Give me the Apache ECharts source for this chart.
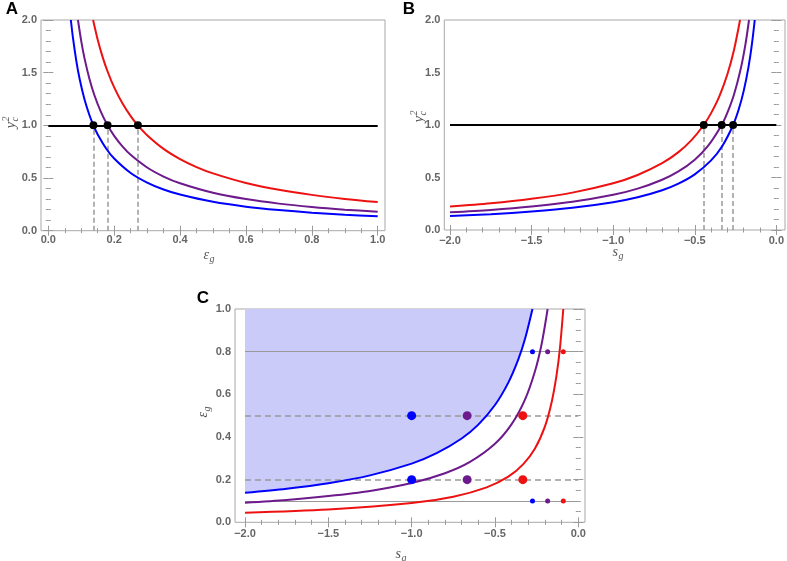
<!DOCTYPE html>
<html>
<head>
<meta charset="utf-8">
<script src="https://cdn.jsdelivr.net/npm/echarts@6/dist/echarts.min.js"></script>
<style>
html,body{margin:0;padding:0;background:#fff;}
#chart{width:787px;height:561px;}
</style>
</head>
<body>
<div id="chart"></div>
<script>
// ---------- DATA ----------
// Panel A: y_c^2 vs eps_g
const A_blue = [[0.0685,2.0],[0.075,1.827],[0.085,1.612],[0.095,1.442],[0.11,1.245],[0.125,1.096],[0.137,1.0],[0.15,0.913],[0.175,0.783],[0.2,0.685],[0.25,0.548],[0.3,0.457],[0.35,0.391],[0.4,0.343],[0.5,0.274],[0.6,0.228],[0.7,0.196],[0.8,0.171],[0.9,0.152],[1.0,0.137]];
const A_purple = [[0.09,2.0],[0.1,1.8],[0.11,1.636],[0.125,1.44],[0.14,1.286],[0.16,1.125],[0.18,1.0],[0.2,0.9],[0.225,0.8],[0.25,0.72],[0.3,0.6],[0.35,0.514],[0.4,0.45],[0.5,0.36],[0.6,0.3],[0.7,0.257],[0.8,0.225],[0.9,0.2],[1.0,0.18]];
const A_red = [[0.136,2.0],[0.15,1.813],[0.165,1.648],[0.18,1.511],[0.2,1.36],[0.225,1.209],[0.25,1.088],[0.272,1.0],[0.3,0.907],[0.35,0.777],[0.4,0.68],[0.45,0.604],[0.5,0.544],[0.6,0.453],[0.7,0.389],[0.8,0.34],[0.9,0.302],[1.0,0.272]];
const A_cross = [0.137, 0.18, 0.272];
const A_level = 1.0;

// Panel B: y_c^2 vs s_g
const B_red = [[-2,0.223],[-1.75,0.254],[-1.5,0.297],[-1.25,0.356],[-1.0,0.445],[-0.85,0.524],[-0.7,0.636],[-0.6,0.742],[-0.52,0.856],[-0.445,1.0],[-0.4,1.113],[-0.35,1.271],[-0.3,1.483],[-0.26,1.712],[-0.2225,2.0]];
const B_purple = [[-2,0.168],[-1.75,0.191],[-1.5,0.223],[-1.25,0.268],[-1.0,0.335],[-0.85,0.394],[-0.7,0.479],[-0.6,0.558],[-0.5,0.67],[-0.42,0.798],[-0.335,1.0],[-0.3,1.117],[-0.26,1.288],[-0.22,1.523],[-0.19,1.763],[-0.1675,2.0]];
const B_blue = [[-2,0.133],[-1.75,0.151],[-1.5,0.177],[-1.25,0.212],[-1.0,0.265],[-0.85,0.312],[-0.7,0.379],[-0.6,0.442],[-0.5,0.53],[-0.4,0.663],[-0.33,0.803],[-0.265,1.0],[-0.23,1.152],[-0.2,1.325],[-0.17,1.559],[-0.15,1.767],[-0.1325,2.0]];
const B_cross = [-0.445, -0.335, -0.265];
const B_level = 1.0;

// Panel C: eps_g vs s_g
const C_blue = [[-2,0.138],[-1.75,0.157],[-1.5,0.183],[-1.25,0.22],[-1.0,0.275],[-0.85,0.324],[-0.7,0.393],[-0.6,0.458],[-0.5,0.55],[-0.42,0.655],[-0.36,0.764],[-0.32,0.859],[-0.275,1.0]];
const C_purple = [[-2,0.092],[-1.75,0.105],[-1.5,0.123],[-1.25,0.147],[-1.0,0.184],[-0.8,0.23],[-0.65,0.283],[-0.5,0.368],[-0.4,0.46],[-0.32,0.575],[-0.26,0.708],[-0.22,0.836],[-0.184,1.0]];
const C_red = [[-2,0.045],[-1.5,0.06],[-1.0,0.09],[-0.75,0.12],[-0.55,0.164],[-0.42,0.214],[-0.33,0.273],[-0.26,0.346],[-0.2,0.45],[-0.16,0.563],[-0.13,0.692],[-0.11,0.818],[-0.09,1.0]];
const C_bigS = [-1.0, -0.667, -0.333];       // blue, purple, red
const C_bigEps = [0.5, 0.2];
const C_smallS = [-0.275, -0.184, -0.09];    // blue, purple, red
const C_smallEps = [0.8, 0.1];
const C_dashedEps = [0.5, 0.2];
const C_solidEps = [0.8, 0.1];

// ---------- STYLE ----------
const COL = ['#0000ff', '#6c1a8c', '#ee1111'];
const TICK = '#9a9a9a';
const LBL = {color:'#666', fontFamily:'Liberation Sans', fontSize:11, fontWeight:'bold'};
const fmt = v => (Math.round(v*10)/10).toFixed(1).replace('-', '\u2212');

function xAx(grid, min, max, interval, minor, pos, margin){
  return {gridIndex:grid, type:'value', min:min, max:max, interval:interval, position:pos,
    axisLine:{show:false}, splitLine:{show:false},
    axisTick:{show:true, inside:true, length:5, lineStyle:{color:TICK, width:1}},
    minorTick:{show:true, splitNumber:minor, length:2.5, lineStyle:{color:TICK, width:1}},
    axisLabel:Object.assign({show:pos==='bottom', margin:margin, formatter:fmt}, LBL)};
}
function yAx(grid, min, max, interval, minor, pos, offset){
  return {gridIndex:grid, type:'value', min:min, max:max, interval:interval, position:pos, offset:offset,
    axisLine:{show:false}, splitLine:{show:false},
    axisTick:{show:true, inside:true, length:5, lineStyle:{color:TICK, width:1}},
    minorTick:{show:true, splitNumber:minor, length:2.5, lineStyle:{color:TICK, width:1}},
    axisLabel:Object.assign({show:pos==='left', margin:4, formatter:fmt}, LBL)};
}
function curve(data, color, xi, z){
  return {type:'line', data:data, xAxisIndex:xi, yAxisIndex:xi, showSymbol:false, smooth:0.3,
    lineStyle:{color:color, width:2}, z:z||3, silent:true, animation:false};
}

const grids = [
  {left:48.3, top:20, width:329.4, height:210.7},
  {left:450, top:20, width:329.3, height:210},
  {left:245, top:309, width:333.3, height:213.3}
];
const frames = [
  {x:41, y:20, w:344, h:210.7},
  {x:444.3, y:20, w:340.7, h:210},
  {x:235, y:309, w:350, h:213.3}
];

const xAxis = [
  xAx(0, 0, 1, 0.2, 4, 'bottom', 4), xAx(0, 0, 1, 0.2, 4, 'top', 4),
  xAx(1, -2, 0, 0.5, 5, 'bottom', 5), xAx(1, -2, 0, 0.5, 5, 'top', 5),
  xAx(2, -2, 0, 0.5, 5, 'bottom', 6), xAx(2, -2, 0, 0.5, 5, 'top', 6)
];
const yAxis = [
  yAx(0, 0, 2, 0.5, 5, 'left', 7.3), yAx(0, 0, 2, 0.5, 5, 'right', 7.3),
  yAx(1, 0, 2, 0.5, 5, 'left', 5.7), yAx(1, 0, 2, 0.5, 5, 'right', 5.7),
  yAx(2, 0, 1, 0.2, 4, 'left', 10), yAx(2, 0, 1, 0.2, 4, 'right', 6.7)
];

function crossPanel(xi, cross, level){
  return [
    {type:'scatter', xAxisIndex:xi, yAxisIndex:xi, data:cross.map(x=>[x, level]),
      symbolSize:8, itemStyle:{color:'#000', opacity:1}, z:6, silent:true, animation:false,
      markLine:{silent:true, symbol:'none', z:2, animation:false, label:{show:false},
        data:[{yAxis:level, lineStyle:{color:'#000', width:2, type:'solid'}}].concat(
          cross.map(x=>[{coord:[x,0], lineStyle:{color:'#999', width:1.5, type:[5,3]}},{coord:[x,level]}]))}}
  ];
}

const series = [];
// Panel A
series.push(...crossPanel(0, A_cross, A_level));
series.push(curve(A_blue, COL[0], 0), curve(A_purple, COL[1], 0), curve(A_red, COL[2], 0));
// Panel B
series.push(...crossPanel(2, B_cross, B_level));
series.push(curve(B_red, COL[2], 2), curve(B_purple, COL[1], 2), curve(B_blue, COL[0], 2));
// Panel C
series.push({type:'line', data:C_blue, xAxisIndex:4, yAxisIndex:4, showSymbol:false, smooth:0.3,
  lineStyle:{width:0, opacity:0}, areaStyle:{origin:'end', color:'#cbcbf9', opacity:1}, z:1, silent:true, animation:false,
  markLine:{silent:true, symbol:'none', z:2, animation:false, label:{show:false},
    data: C_solidEps.map(e=>({yAxis:e, lineStyle:{color:'#999', width:1, type:'solid'}})).concat(
          C_dashedEps.map(e=>({yAxis:e, lineStyle:{color:'#999', width:1.5, type:[6,4]}})))}});
series.push(curve(C_blue, COL[0], 4), curve(C_purple, COL[1], 4), curve(C_red, COL[2], 4));
for (let i=0;i<3;i++){
  series.push({type:'scatter', xAxisIndex:4, yAxisIndex:4, symbolSize:9, itemStyle:{color:COL[i], opacity:1}, z:6, silent:true, animation:false,
    data:C_bigEps.map(e=>[C_bigS[i], e])});
  series.push({type:'scatter', xAxisIndex:4, yAxisIndex:4, symbolSize:5, itemStyle:{color:COL[i], opacity:1}, z:6, silent:true, animation:false,
    data:C_smallEps.map(e=>[C_smallS[i], e])});
}

// ---------- decorations: frames, titles, panel letters ----------
const TITLE = {fill:'#555', font:'italic 14px "Liberation Serif"'};
const SUB = {fill:'#555', font:'italic 10px "Liberation Serif"'};
function xTitle(cx, cy, main, sub){
  return {type:'group', x:cx, y:cy, silent:true, children:[
    {type:'text', x:0, y:0, style:Object.assign({text:main, textAlign:'right', textVerticalAlign:'middle'}, TITLE)},
    {type:'text', x:0.5, y:4, style:Object.assign({text:sub, textAlign:'left', textVerticalAlign:'middle'}, SUB)}
  ]};
}
function yTitleY(cx, cy){
  return {type:'group', x:cx, y:cy, rotation:Math.PI/2, silent:true, children:[
    {type:'text', x:0, y:0, style:Object.assign({text:'y', textAlign:'right', textVerticalAlign:'middle'}, TITLE)},
    {type:'text', x:0.5, y:-5, style:Object.assign({text:'2', textAlign:'left', textVerticalAlign:'middle'}, SUB)},
    {type:'text', x:0.5, y:4, style:Object.assign({text:'c', textAlign:'left', textVerticalAlign:'middle'}, SUB)}
  ]};
}
function yTitleEps(cx, cy){
  return {type:'group', x:cx, y:cy, rotation:Math.PI/2, silent:true, children:[
    {type:'text', x:0, y:0, style:Object.assign({text:'\u03b5', textAlign:'right', textVerticalAlign:'middle'}, TITLE)},
    {type:'text', x:0.5, y:4, style:Object.assign({text:'g', textAlign:'left', textVerticalAlign:'middle'}, SUB)}
  ]};
}
const graphic = frames.map(f=>({type:'rect', silent:true, z:0,
  shape:{x:f.x, y:f.y, width:f.w, height:f.h}, style:{fill:null, stroke:'#a8a8a8', lineWidth:1}}))
  .concat([
    xTitle(209, 255, '\u03b5', 'g'),
    xTitle(618, 252, 's', 'g'),
    xTitle(401, 554, 's', 'g'),
    yTitleY(11, 122),
    yTitleY(419, 116),
    yTitleEps(203, 412),
    {type:'text', x:12, y:9, silent:true, style:{text:'A', fill:'#000', font:'bold 17px "Liberation Sans"', textAlign:'center', textVerticalAlign:'middle'}},
    {type:'text', x:409, y:9, silent:true, style:{text:'B', fill:'#000', font:'bold 17px "Liberation Sans"', textAlign:'center', textVerticalAlign:'middle'}},
    {type:'text', x:203, y:298, silent:true, style:{text:'C', fill:'#000', font:'bold 17px "Liberation Sans"', textAlign:'center', textVerticalAlign:'middle'}}
  ]);

const chart = echarts.init(document.getElementById('chart'), null, {renderer:'canvas'});
chart.setOption({
  backgroundColor:'#fff',
  animation:false,
  grid:grids,
  xAxis:xAxis,
  yAxis:yAxis,
  series:series,
  graphic:graphic
});
</script>
</body>
</html>
